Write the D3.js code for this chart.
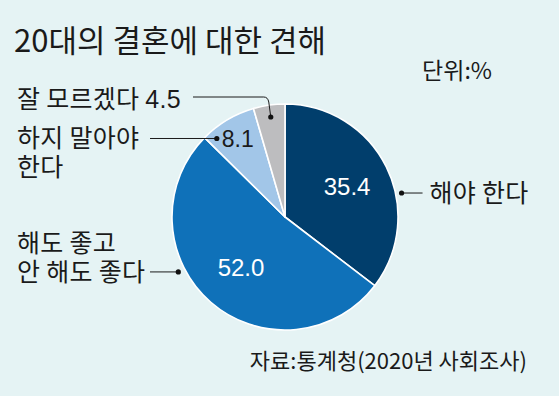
<!DOCTYPE html>
<html>
<head>
<meta charset="utf-8">
<script src="https://cdn.jsdelivr.net/npm/d3@7"></script>
<style>
  html, body { margin: 0; padding: 0; background: #e5f3f4; }
  svg { display: block; }
  text { font-family: "Noto Sans CJK KR", "Noto Sans", sans-serif; fill: #1a1a1a; }
  .num { font-family: "Liberation Sans", Arial, sans-serif; }
  .lab { font-size: 25px; letter-spacing: 0.3px; }
</style>
</head>
<body>
<svg id="chart" width="559" height="396"></svg>
<script>
// ---- data ----
const categories = ["해야 한다", "해도 좋고 안 해도 좋다", "하지 말아야 한다", "잘 모르겠다"];
const categoryLines = [["해야 한다"], ["해도 좋고", "안 해도 좋다"], ["하지 말아야", "한다"], ["잘 모르겠다"]];
const values = [35.4, 52.0, 8.1, 4.5];
const valueLabels = ["35.4", "52.0", "8.1", "4.5"];
const colors = ["#013e6c", "#0f71b9", "#a2c6e8", "#bdbdbf"];
const title = "20대의 결혼에 대한 견해";
const unitText = "단위:%";
const sourceText = "자료:통계청(2020년 사회조사)";

// ---- layout ----
const W = 559, H = 396;
const cx = 285, cy = 217, R = 113;
const svg = d3.select("#chart");
svg.append("rect").attr("width", W).attr("height", H).attr("fill", "#e5f3f4");

svg.append("text").attr("x", 14).attr("y", 52)
  .attr("font-size", 31).attr("font-weight", 400).text(title);
svg.append("text").attr("x", 492).attr("y", 79).attr("text-anchor", "end")
  .attr("font-size", 23).text(unitText);
svg.append("text").attr("x", 527).attr("y", 369).attr("text-anchor", "end")
  .attr("font-size", 22).text(sourceText);

const pie = d3.pie().sort(null).value(d => d)(values);
const arc = d3.arc().innerRadius(0).outerRadius(R);
const g = svg.append("g").attr("transform", `translate(${cx},${cy})`);

g.selectAll("path.slice").data(pie).join("path")
  .attr("class", "slice")
  .attr("d", arc)
  .attr("fill", (d, i) => colors[i])
  .attr("stroke", "#ffffff").attr("stroke-width", 1.6).attr("stroke-linejoin", "round");

// inner white value labels (first two)
const inner = d3.arc().innerRadius(67).outerRadius(67);
[0, 1].forEach(i => {
  const [x, y] = inner.centroid(pie[i]);
  g.append("text").attr("class", "num")
    .attr("x", x + (i === 0 ? 2 : 0)).attr("y", y + 8)
    .attr("text-anchor", "middle").attr("font-size", 24)
    .style("fill", "#ffffff").text(valueLabels[i]);
});

// anchor point on a slice: fraction along slice angle, radius
function anchor(i, frac, r) {
  const a = pie[i].startAngle + (pie[i].endAngle - pie[i].startAngle) * frac;
  return [cx + r * Math.sin(a), cy - r * Math.cos(a)];
}
const line = (p) => svg.append("path").attr("d", p).attr("fill", "none")
  .attr("stroke", "#1a1a1a").attr("stroke-width", 1);
const dot = ([x, y]) => svg.append("circle").attr("cx", x).attr("cy", y).attr("r", 2.6).attr("fill", "#111");
function multiLabel(lines, x, y) {
  const t = svg.append("text").attr("class", "lab").attr("x", x).attr("y", y);
  lines.forEach((s, k) => t.append("tspan").attr("x", x).attr("dy", k === 0 ? 0 : 28.5).text(s));
  return t;
}

// 해야 한다
const a0 = anchor(0, 0.615, 119);
line(`M${a0[0]},${a0[1]}H${a0[0] + 21}`);
dot(a0);
multiLabel(categoryLines[0], a0[0] + 28, a0[1] + 9);

// 해도 좋고 안 해도 좋다
const a1 = anchor(1, 0.616, 120);
line(`M150,${a1[1]}H${a1[0]}`);
dot(a1);
multiLabel(categoryLines[1], 17, a1[1] - 19.5);

// 하지 말아야 한다
const a2 = anchor(2, 0.15, 104);
line(`M150,${a2[1]}H${a2[0]}`);
dot(a2);
multiLabel(categoryLines[2], 17, a2[1] + 9);
svg.append("text").attr("class", "num").attr("x", a2[0] + 5).attr("y", a2[1] + 9)
  .attr("font-size", 23).text(valueLabels[2]);

// 잘 모르겠다 4.5
const a3 = anchor(3, 0.5, 101);
line(`M193,97H${a3[0] - 7}Q${a3[0] - 3},97 ${a3[0] - 2},102L${a3[0]},${a3[1]}`);
dot(a3);
const t3 = svg.append("text").attr("class", "lab").attr("x", 17).attr("y", 108);
t3.append("tspan").text(categoryLines[3][0] + " ");
t3.append("tspan").attr("class", "num").text(valueLabels[3]);
</script>
</body>
</html>
